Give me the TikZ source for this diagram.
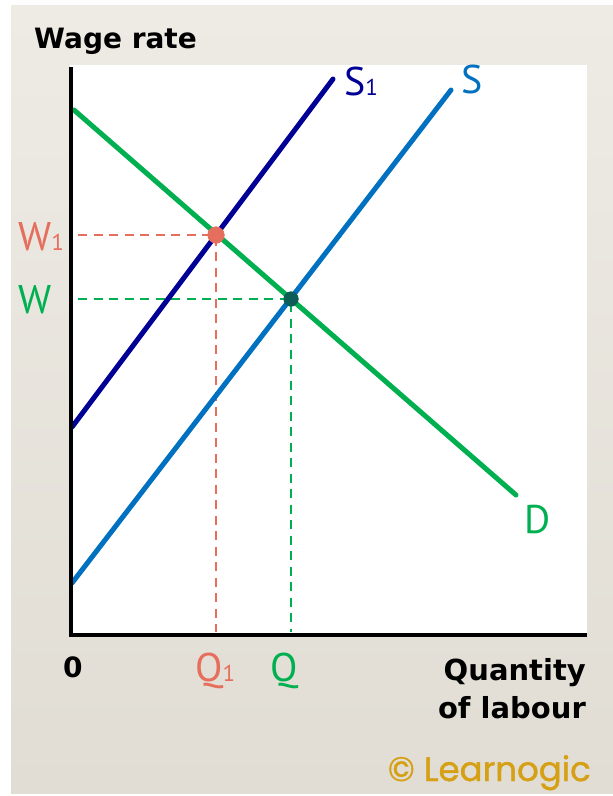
\documentclass[tikz,border=0pt]{standalone}
\usepackage{fontspec}
\setmainfont{PT Sans}
\newfontfamily\boldlab{DejaVu Sans}
\newfontfamily\logofont{Poppins}[FakeBold=1.2]
\definecolor{bgtop}{RGB}{238,235,229}
\definecolor{bgbot}{RGB}{225,221,212}
\definecolor{dgreen}{RGB}{0,176,80}
\definecolor{sonecol}{RGB}{0,0,150}
\definecolor{scol}{RGB}{0,112,192}
\definecolor{salmon}{RGB}{230,110,92}
\definecolor{teal}{RGB}{12,94,86}
\definecolor{gold}{RGB}{214,160,20}
\tikzset{
  curve/.style={line width=5pt, line cap=round},
  guide/.style={line width=2.8pt, dash pattern=on 9pt off 6.5pt},
  axisline/.style={line width=4pt, black},
  lab/.style={inner sep=0pt, font=\fontsize{40}{44}\selectfont},
  blab/.style={inner sep=0pt, font=\boldlab\bfseries\fontsize{28}{32}\selectfont},
  dotst/.style={circle, inner sep=0pt, minimum size=#1}
}
\newcommand{\subone}{{\fontsize{23}{25}\selectfont 1}}
\begin{document}
\begin{tikzpicture}[x=1pt,y=-1pt]
\useasboundingbox (0,0) rectangle (613,796);
\fill[white] (0,0) rectangle (613,796);
\shade[top color=bgtop, bottom color=bgbot] (11,5) rectangle (613,793);
\fill[white] (70,65) rectangle (587,635);
% coordinates
\coordinate (dA) at (74,110);
\coordinate (dB) at (516,495);
\coordinate (s1A) at (72,427);
\coordinate (s1B) at (333,79);
\coordinate (sA) at (72,583);
\coordinate (sB) at (451,90);
\coordinate (o) at (71,635);
\coordinate (ytop) at (71,67);
\coordinate (xend) at (587,635);
\coordinate (w1l) at (78,235);
\coordinate (wl) at (78,299);
\coordinate (q1b) at (216,632);
\coordinate (qb) at (291,632);
% equilibrium dots
\node[dotst=17pt, fill=salmon] (e1) at (216,235) {};
\node[dotst=15pt, fill=teal] (e0) at (291,299) {};
% guides
\draw[guide, salmon] (w1l) -- (e1.center) -- (q1b);
\draw[guide, dgreen] (wl) -- (e0.center) -- (qb);
% curves
\draw[curve, dgreen] (dA) -- (dB);
\draw[curve, sonecol] (s1A) -- (s1B);
\draw[curve, scol] (sA) -- (sB);
% redraw dots on top
\node[dotst=17pt, fill=salmon] at (e1) {};
\node[dotst=15pt, fill=teal] at (e0) {};
% axes
\draw[axisline] (ytop) -- (o.center) -- (xend);
% labels
\node[blab, anchor=base west] (ylab) at (34,48) {Wage rate};
\node[lab, anchor=base west, text=sonecol] (ls1) at (344,95) {S\subone};
\node[lab, anchor=base west, text=scol] (ls) at (461,93) {S};
\node[lab, anchor=base west, text=salmon] (lw1) at (18,250) {W\subone};
\node[lab, anchor=base west, text=dgreen] (lw) at (18,313) {W};
\node[lab, anchor=base west, text=salmon] (lq1) at (195,681) {Q\subone};
\node[lab, anchor=base west, text=dgreen] (lq) at (270,681) {Q};
\node[lab, anchor=base west, text=dgreen] (ld) at (524,533) {D};
\node[blab, anchor=base west] (l0) at (63,677) {0};
\node[blab, anchor=base east, font=\boldlab\bfseries\fontsize{29}{32}\selectfont] (lqa) at (586,680) {Quantity};
\node[blab, anchor=base east, font=\boldlab\bfseries\fontsize{29}{32}\selectfont] (lqb) at (586,718) {of labour};
\node[inner sep=0pt, anchor=base east, text=gold, font=\logofont\fontsize{34}{36}\selectfont] (logo) at (591,781) {© Learnogic};
\end{tikzpicture}
\end{document}
